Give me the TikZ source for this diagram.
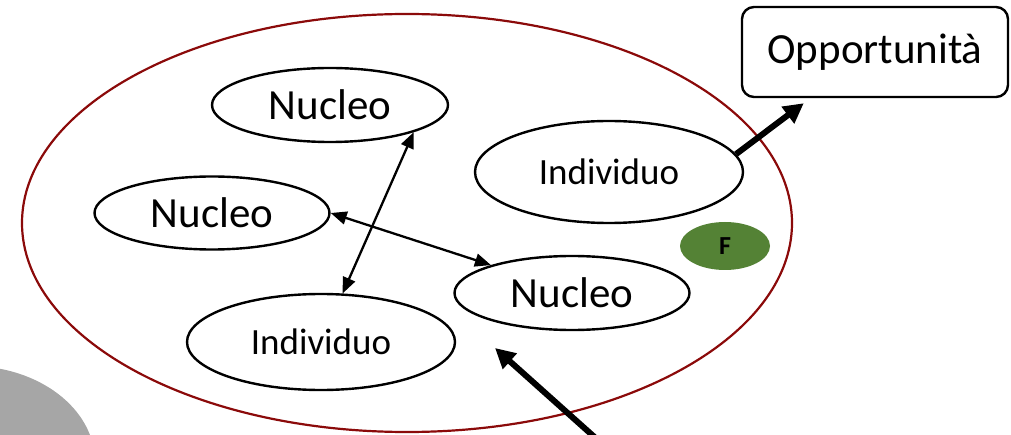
\documentclass[tikz,border=0pt]{standalone}
\usepackage{fontspec}
\setmainfont{Carlito}
\usetikzlibrary{arrows.meta,shapes.geometric,calc}
\definecolor{darkred}{HTML}{8B0A0A}
\definecolor{fgreen}{HTML}{548235}
\definecolor{shadegray}{HTML}{A6A6A6}
\tikzset{
  oval/.style={ellipse, draw=black, line width=2.4pt, fill=white, inner sep=0pt},
  thin arrow/.style={line width=2.3pt, {Triangle[length=16pt,width=13pt]}-{Triangle[length=16pt,width=13pt]}},
  thick arrow/.style={line width=6pt, -{Triangle[length=20pt,width=20pt]}},
}
\begin{document}
\begin{tikzpicture}[x=1pt,y=-1pt]
\useasboundingbox (0,0) rectangle (1011,435);
\begin{scope}
\clip (0,0) rectangle (1011,435);
\fill[shadegray] (-30,462) ellipse [x radius=125, y radius=96];
\end{scope}
\draw[darkred, line width=2.2pt] (407,223) ellipse [x radius=385, y radius=209];
\node[oval, minimum width=236pt, minimum height=74pt, font=\fontsize{43}{48}\selectfont] (n1) at (330,105) {Nucleo};
\node[oval, minimum width=235pt, minimum height=73pt, font=\fontsize{43}{48}\selectfont] (n2) at (212,213) {Nucleo};
\node[oval, minimum width=268pt, minimum height=102pt, font=\fontsize{37}{42}\selectfont] (i1) at (609,172) {Individuo};
\node[oval, minimum width=235pt, minimum height=74pt, font=\fontsize{43}{48}\selectfont] (n3) at (572,293) {Nucleo};
\node[oval, minimum width=268pt, minimum height=96pt, font=\fontsize{37}{42}\selectfont] (i2) at (321,342) {Individuo};
\node[ellipse, fill=fgreen, minimum width=90pt, minimum height=48pt, inner sep=0pt, font=\bfseries\fontsize{26}{30}\selectfont] (f) at (725,246) {F};
\node[draw=black, line width=2.4pt, rounded corners=12pt, fill=white, minimum width=266pt, minimum height=90pt, font=\fontsize{43}{48}\selectfont] (opp) at (875,52) {Opportunità};
\coordinate (bot) at (600,442);
\coordinate (tipI) at (495,348);
\coordinate (tipO) at ($(opp.south west)+(63,5)$);
\draw[thin arrow] (n1.-18) -- (i2.66);
\draw[thin arrow] (n2.east) -- (n3.161);
\draw[thick arrow] (i1.8) -- (tipO);
\draw[thick arrow] (bot) -- (tipI);
\end{tikzpicture}
\end{document}
